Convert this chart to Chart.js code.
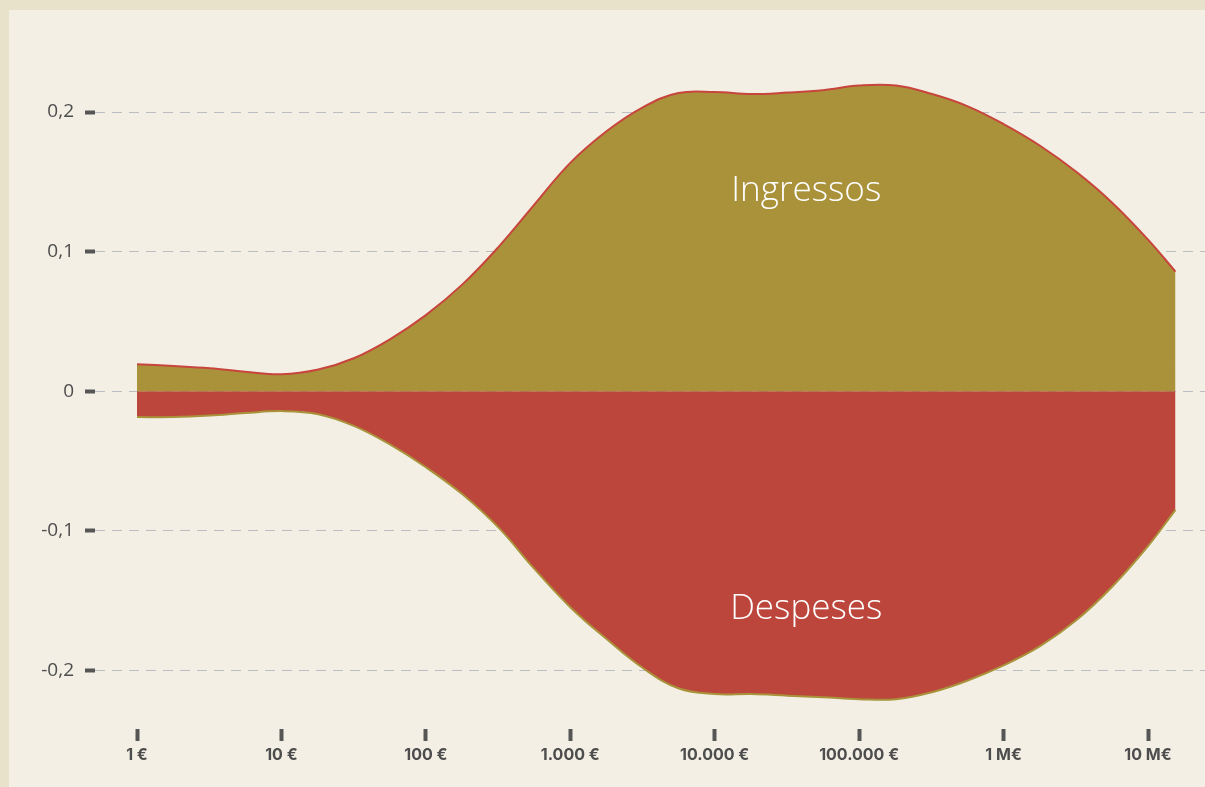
<!DOCTYPE html>
<html lang="ca">
<head>
<meta charset="utf-8">
<title>Ingressos i despeses</title>
<script src="https://cdn.jsdelivr.net/npm/chart.js@4/dist/chart.umd.min.js"></script>
<style>
    html, body { margin: 0; padding: 0; background: #e9e2cb; overflow: hidden; }
    #wrap {
        position: absolute;
        left: 9px; top: 10px;
        width: 1196px; height: 777px;
        background: #f3efe4;
    }
</style>
</head>
<body>
<div id="wrap"><canvas id="densityChart"></canvas></div>
<script>
// Data
const amounts = [1, 1.8, 3.2, 5.6, 10, 18, 32, 56, 100, 180, 320, 560, 1000, 1800, 3200, 5600,
    10000, 18000, 32000, 56000, 100000, 180000, 320000, 560000, 1000000, 1800000, 3200000,
    5600000, 10000000, 15500000];
const ingressos = [0.0193, 0.018, 0.0164, 0.014, 0.0121, 0.0155, 0.0238, 0.037, 0.0545, 0.0767,
    0.1036, 0.1333, 0.1636, 0.1866, 0.2036, 0.2136, 0.2143, 0.2129, 0.214, 0.2157, 0.219, 0.219,
    0.2129, 0.2043, 0.1914, 0.1757, 0.157, 0.1354, 0.1086, 0.0857];
const despeses = [-0.0186, -0.0186, -0.0175, -0.0157, -0.0143, -0.0165, -0.025, -0.038, -0.0545,
    -0.0741, -0.098, -0.127, -0.1548, -0.178, -0.1986, -0.2129, -0.2171, -0.2171, -0.2182, -0.2193,
    -0.2207, -0.2207, -0.2157, -0.2075, -0.1965, -0.1825, -0.164, -0.1405, -0.111, -0.085];
const xTicks = [1, 10, 100, 1000, 10000, 100000, 1000000, 10000000];
const xLabels = ['1 €', '10 €', '100 €', '1.000 €', '10.000 €', '100.000 €', '1 M€', '10 M€'];
const yTicks = [-0.2, -0.1, 0, 0.1, 0.2];
const areaLabels = ['Ingressos', 'Despeses'];

const OLIVE = '#aa923b';
const RED = '#bd463c';

// Area names drawn inside the filled shapes
const areaLabelPlugin = {
    id: 'areaLabels',
    afterDatasetsDraw(chart) {
        const { ctx, scales } = chart;
        const x = scales.x.getPixelForValue(43000);
        ctx.save();
        ctx.fillStyle = '#ffffff';
        ctx.font = '300 35px "Open Sans", sans-serif';
        ctx.textAlign = 'center';
        ctx.textBaseline = 'alphabetic';
        ctx.fillText(areaLabels[0], x, scales.y.getPixelForValue(0.1364));
        ctx.fillText(areaLabels[1], x, scales.y.getPixelForValue(-0.1636));
        ctx.restore();
    }
};

new Chart(document.getElementById('densityChart'), {
    type: 'line',
    data: {
        datasets: [{
            label: areaLabels[0],
            data: amounts.map((a, i) => ({ x: a, y: ingressos[i] })),
            borderColor: '#c7453d',
            backgroundColor: OLIVE,
            borderWidth: 2,
            fill: 'origin',
            pointRadius: 0,
            tension: 0.4
        }, {
            label: areaLabels[1],
            data: amounts.map((a, i) => ({ x: a, y: despeses[i] })),
            borderColor: '#a8923a',
            backgroundColor: RED,
            borderWidth: 2,
            fill: 'origin',
            pointRadius: 0,
            tension: 0.4
        }]
    },
    options: {
        responsive: true,
        maintainAspectRatio: false,
        animation: false,
        layout: { padding: { top: 20, right: 0, bottom: 0, left: 0 } },
        plugins: {
            legend: { display: false },
            tooltip: { enabled: false }
        },
        scales: {
            x: {
                type: 'logarithmic',
                min: 0.5119,
                max: 24810000,
                afterBuildTicks: scale => { scale.ticks = xTicks.map(v => ({ value: v })); },
                afterFit: scale => { scale.height = 58; },
                border: { display: false },
                grid: {
                    drawOnChartArea: false,
                    tickLength: 12,
                    tickWidth: 4,
                    tickColor: '#565656'
                },
                ticks: {
                    autoSkip: false,
                    maxRotation: 0,
                    padding: 5,
                    color: '#4d4d4d',
                    font: { family: 'Inter', size: 16, weight: '700' },
                    callback: (v, i) => xLabels[i]
                }
            },
            y: {
                min: -0.2421,
                max: 0.2571,
                afterBuildTicks: scale => { scale.ticks = yTicks.map(v => ({ value: v })); },
                afterFit: scale => { scale.width = 86; },
                border: { display: false, dash: [10, 7] },
                grid: {
                    color: '#bcbdc2',
                    lineWidth: 1,
                    tickLength: 10,
                    tickWidth: 4,
                    tickColor: '#565656',
                    tickBorderDash: []
                },
                ticks: {
                    padding: 11,
                    color: '#4d4d4d',
                    font: { family: '"Open Sans"', size: 19 },
                    callback: v => v === 0 ? '0' : v.toFixed(1).replace('.', ',')
                }
            }
        }
    },
    plugins: [areaLabelPlugin]
});
</script>
</body>
</html>
